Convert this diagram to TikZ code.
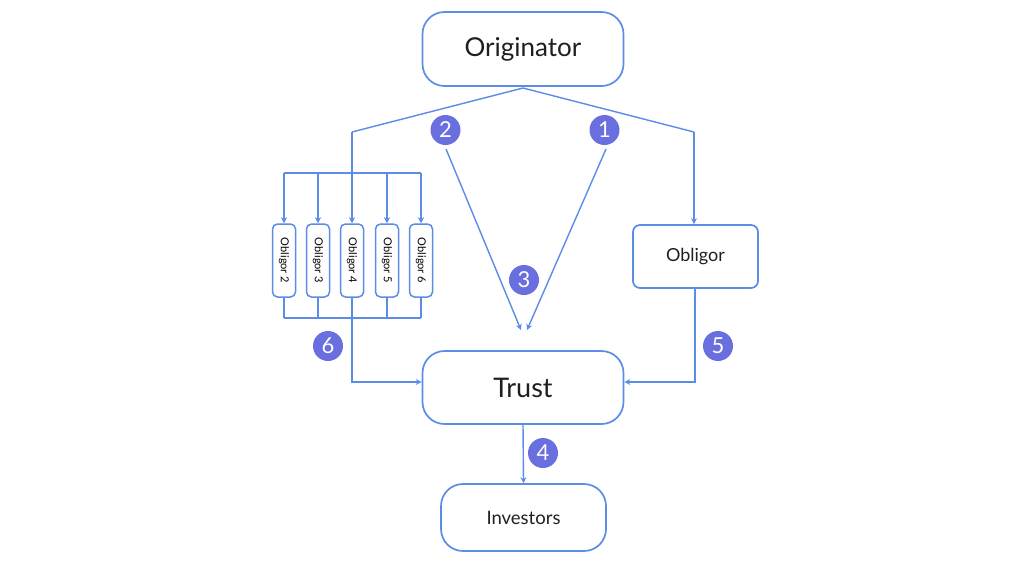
\documentclass[tikz,border=0pt]{standalone}
\usepackage{fontspec}
\setmainfont{Lato}
\usetikzlibrary{arrows.meta}
\definecolor{lineblue}{HTML}{5B8DE8}
\definecolor{badge}{HTML}{6A6FDF}
\begin{document}
\begin{tikzpicture}[x=1pt,y=-1pt,
  box/.style={draw=lineblue,line width=1.7pt,rounded corners=22pt,fill=white,text=black!88,inner sep=0pt},
  smallbox/.style={draw=lineblue,line width=1.5pt,rounded corners=5pt,fill=white,minimum width=23pt,minimum height=73pt,inner sep=0pt},
  conn/.style={draw=lineblue,line width=1.4pt},
  arr/.style={conn,-{Stealth[length=6pt,width=6pt]}},
  num/.style={circle,fill=badge,text=white,minimum size=30pt,inner sep=0pt,font=\fontsize{22}{22}\selectfont}]
\useasboundingbox (0,0) rectangle (1030,579);
\fill[white] (0,0) rectangle (1030,579);
\node[box,minimum width=201pt,minimum height=74pt,font=\fontsize{26}{26}\selectfont] (orig) at (523,49) {Originator};
\node[box,minimum width=201pt,minimum height=73pt,font=\fontsize{27}{27}\selectfont] (trust) at (523,387.5) {Trust};
\node[box,minimum width=165pt,minimum height=67pt,font=\fontsize{18.5}{18.5}\selectfont] (inv) at (523.5,517.5) {Investors};
\node[box,rounded corners=7pt,minimum width=125pt,minimum height=63pt,font=\fontsize{18}{18}\selectfont] (obl) at (695.5,256.5) {Obligor};
\foreach \i/\x in {2/284,3/318,4/352,5/387,6/421}{
  \node[smallbox] (o\i) at (\x,260.5) {\rotatebox{-90}{\fontsize{11}{11}\selectfont Obligor \i}};
}
\coordinate (apex) at (523,88);
\coordinate (lk) at (352,132);
\coordinate (rk) at (694,132);
\coordinate (ttop) at (284,173);
\coordinate (tbot) at (284,318);
\coordinate (tbotr) at (421,318);
\coordinate (ttopr) at (421,173);
% originator branches
\draw[conn] (apex) -- (lk);
\draw[arr] (lk) -- (o4.north);
\draw[conn] (apex) -- (rk);
\draw[arr] (rk) -- (obl.north -| rk);
% top distribution bar
\draw[conn] (ttop) -- (ttopr);
\foreach \i in {2,3,5,6}{ \draw[arr] (ttop -| o\i.north) -- (o\i.north); }
% bottom collection bar
\foreach \i in {2,3,5,6}{ \draw[conn] (o\i.south) -- (tbot -| o\i.south); }
\draw[conn] (tbot) -- (tbotr);
\draw[arr] (o4.south) |- (trust.west |- 0,382);
% obligor to trust
\draw[arr] (obl.south -| 695,0) |- (trust.east |- 0,382);
% trust to investors
\draw[arr] (trust.south) -- (inv.north);
% diagonal arrows
\node[num] (n2) at (445.5,130) {2};
\node[num] (n1) at (604.5,130) {1};
\coordinate (e2) at (521,330);
\coordinate (e1) at (527,330);
\draw[arr] (446,149) -- (e2);
\draw[arr] (606,149) -- (e1);
\node[num] (n3) at (524,280) {3};
\node[num] (n6) at (328,346) {6};
\node[num] (n5) at (718,346) {5};
\node[num] (n4) at (543,453) {4};
\end{tikzpicture}
\end{document}
